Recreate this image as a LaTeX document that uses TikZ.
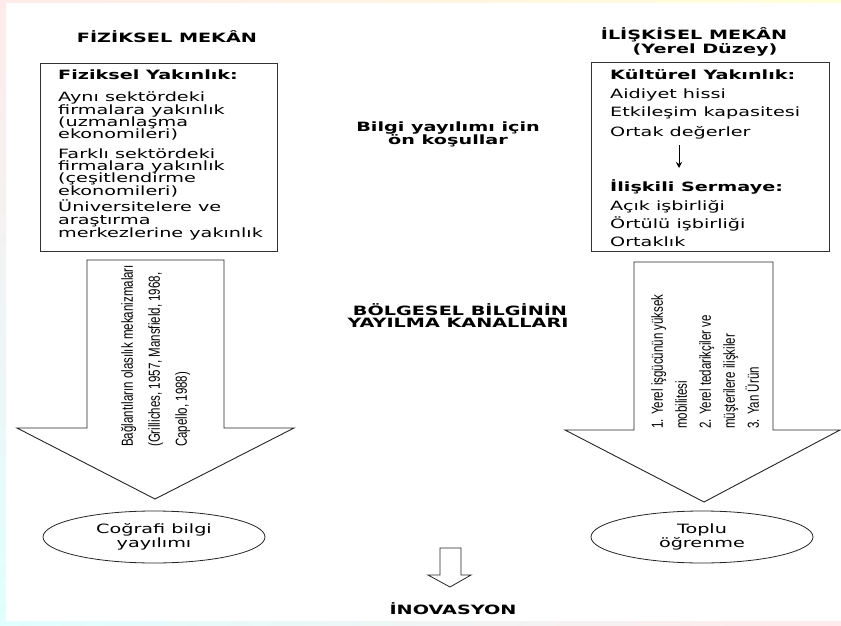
\documentclass[tikz,border=0pt]{standalone}
\usepackage{fontspec}
\setmainfont{DejaVu Sans}[FakeStretch=1.5]
\newfontfamily\narrowfont{Liberation Sans}[FakeStretch=0.72]
\usetikzlibrary{shapes.geometric,arrows.meta}
\begin{document}
\begin{tikzpicture}[x=1pt,y=-1pt,
  frame/.style={draw=black!80,line width=1.1pt,inner sep=0pt},
  barrow/.style={draw=black!85,line width=0.9pt,fill=white,line join=miter},
  ttl/.style={font=\bfseries\fontsize{12.8}{13}\selectfont,inner sep=0pt},
  hd/.style={font=\bfseries\fontsize{12.8}{13}\selectfont,inner sep=0pt,anchor=base west},
  bt/.style={font=\fontsize{12.8}{13}\selectfont,inner sep=0pt,anchor=base west},
  rot/.style={font=\narrowfont\fontsize{16}{27}\selectfont,rotate=90,align=left,inner sep=0pt,anchor=north west},
  ell/.style={ellipse,draw=black!85,line width=0.8pt,minimum width=222pt,minimum height=52pt,inner sep=0pt,align=center,font=\fontsize{12.8}{14}\selectfont}
]
\useasboundingbox (0,0) rectangle (841,626);
% faint background edges
\fill[white] (0,0) rectangle (841,626);
\shade[top color=red!8,bottom color=cyan!12] (0,0) rectangle (6,626);
\shade[left color=red!8,right color=yellow!15] (0,0) rectangle (841,3);
\shade[left color=cyan!12,right color=red!8] (0,621) rectangle (841,626);

% titles
\node[ttl] (t1) at (167,37) {FİZİKSEL MEKÂN};
\node[ttl] (t2) at (694,35) {İLİŞKİSEL MEKÂN};
\node[ttl] (t3) at (705,50) {(Yerel Düzey)};
\node[ttl] (m1) at (448,128) {Bilgi yayılımı için};
\node[ttl] (m2) at (448,141) {ön koşullar};
\node[ttl] (m3) at (460,310) {BÖLGESEL BİLGİNİN};
\node[ttl] (m4) at (458,323) {YAYILMA KANALLARI};
\node[ttl] (inov) at (453,609) {İNOVASYON};

% left box
\node[frame,minimum width=237pt,minimum height=188pt,anchor=north west] (lbox) at (40,63) {};
\node[hd] (l0) at (58,80) {Fiziksel Yakınlık:};
\node[bt] (l1) at (58,102) {Aynı sektördeki};
\node[bt] (l2) at (58,114) {firmalara yakınlık};
\node[bt] (l3) at (58,126.5) {(uzmanlaşma};
\node[bt] (l4) at (58,139) {ekonomileri)};
\node[bt] (l5) at (58,158) {Farklı sektördeki};
\node[bt] (l6) at (58,170) {firmalara yakınlık};
\node[bt] (l7) at (58,182.5) {(çeşitlendirme};
\node[bt] (l8) at (58,195) {ekonomileri)};
\node[bt] (l9) at (58,211.5) {Üniversitelere ve};
\node[bt] (l10) at (58,224) {araştırma};
\node[bt] (l11) at (58,237) {merkezlerine yakınlık};

% right box
\node[frame,minimum width=238pt,minimum height=189pt,anchor=north west] (rbox) at (591,62) {};
\node[hd] (r0) at (610,80) {Kültürel Yakınlık:};
\node[bt] (r1) at (610,99) {Aidiyet hissi};
\node[bt] (r2) at (610,117) {Etkileşim kapasitesi};
\node[bt] (r3) at (610,136) {Ortak değerler};
\coordinate (ra) at (679,145);
\coordinate (rb) at (679,168);
\draw[line width=0.8pt,-{Stealth[length=6pt,width=6pt]}] (ra) -- (rb);
\node[hd] (r4) at (610,191) {İlişkili Sermaye:};
\node[bt] (r5) at (610,210) {Açık işbirliği};
\node[bt] (r6) at (610,228) {Örtülü işbirliği};
\node[bt] (r7) at (610,246) {Ortaklık};

% left block arrow
\draw[barrow] (87,260) -- (224,260) -- (224,428) -- (294,428) -- (155,499) -- (17,428) -- (87,428) -- cycle;
\node[rot] (ltxt) at (121,447) {Bağlantıların olasılık mekanizmaları\\(Grilliches, 1957, Mansfield, 1968,\\Capello, 1988)};

% right block arrow
\draw[barrow] (634,262) -- (773,262) -- (773,430) -- (840,430) -- (704,502) -- (565,430) -- (634,430) -- cycle;
\node[rot,font=\narrowfont\fontsize{16}{24}\selectfont] (rtxt) at (651,429) {1. Yerel işgücünün yüksek\\mobilitesi\\2. Yerel tedarikçiler ve\\müşterilere ilişkiler\\3. Yan Ürün};

% ellipses
\node[ell] (le) at (154,537) {Coğrafi bilgi\\yayılımı};
\node[ell] (re) at (702,537) {Toplu\\öğrenme};

% small arrow
\draw[barrow,line width=0.8pt] (440,548) -- (461,548) -- (461,575) -- (471,575) -- (450,587) -- (428,575) -- (440,575) -- cycle;
\end{tikzpicture}
\end{document}
